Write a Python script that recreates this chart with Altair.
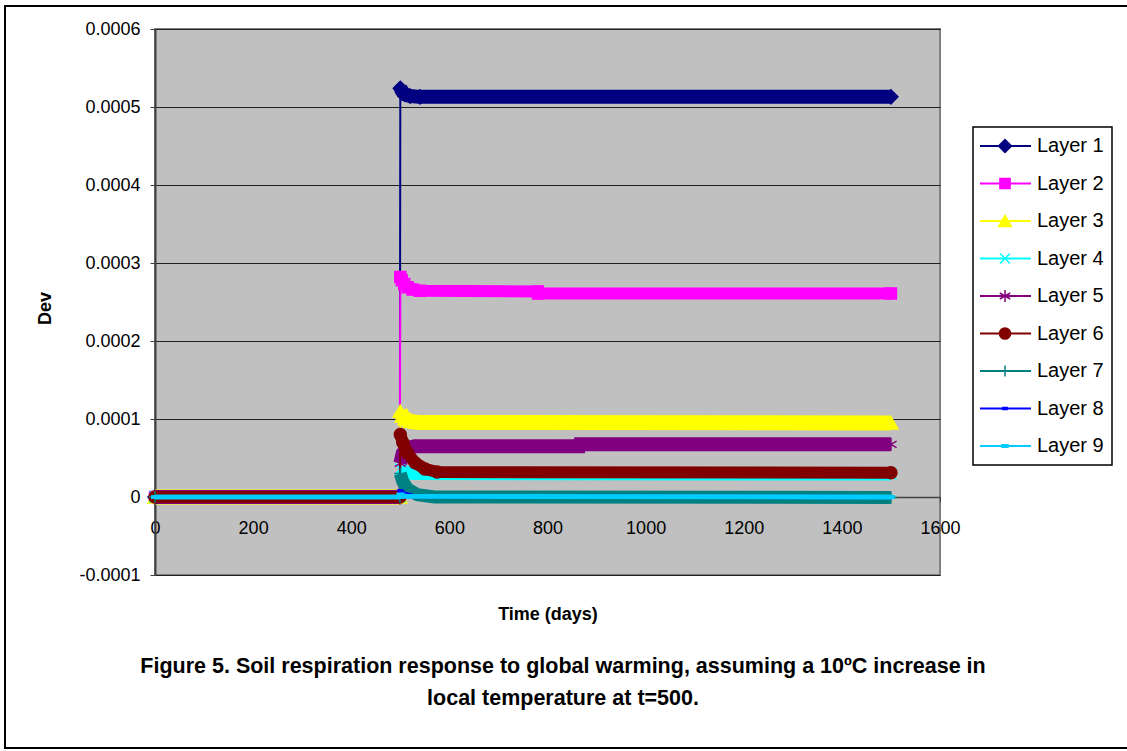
import altair as alt
import pandas as pd

# ---------------- data ----------------
layers = ["Layer 1", "Layer 2", "Layer 3", "Layer 4", "Layer 5",
          "Layer 6", "Layer 7", "Layer 8", "Layer 9"]
colors = ["#000080", "#FF00FF", "#FFFF00", "#00FFFF", "#800080",
          "#800000", "#008080", "#0000FF", "#00CCFF"]

l1_day = [0, 499, 500, 502, 505, 510, 520, 540, 1500]
l1_dev = [0, 0, 0.000524, 0.000522, 0.000519, 0.000516, 0.000514, 0.000513, 0.000513]

l2_day = [0, 499, 500, 503, 508, 515, 525, 540, 780, 781, 1500]
l2_dev = [0, 0, 0.000282, 0.000278, 0.000273, 0.000269, 0.000266, 0.0002645, 0.0002635, 0.000261, 0.000261]

l3_day = [0, 499, 500, 504, 510, 520, 540, 1500]
l3_dev = [0, 0, 0.000110, 0.000104, 0.000100, 0.000097, 0.0000955, 0.000095]

l4_day = [0, 499, 500, 505, 515, 530, 1500]
l4_dev = [0, 0, 0.000036, 0.000033, 0.000031, 0.000030, 0.0000295]

l5_day = [0, 499, 500, 505, 515, 530, 865, 866, 1500]
l5_dev = [0, 0, 0.000043, 0.000056, 0.000063, 0.000065, 0.000065, 0.0000675, 0.0000675]

l6_day = [0, 499, 500, 505, 515, 530, 550, 575, 1500]
l6_dev = [0, 0, 0.000080, 0.000070, 0.000056, 0.000044, 0.000036, 0.000032, 0.000031]

l7_day = [0, 499, 500, 505, 515, 535, 570, 1500]
l7_dev = [0, 0, 0.000030, 0.000020, 0.000010, 0.000003, 0.0, -0.0000006]

l8_day = [0, 499, 500, 510, 530, 1500]
l8_dev = [0, 0, 0.000008, 0.000004, 0.000001, 0.0]

l9_day = [0, 499, 500, 510, 1500]
l9_dev = [0, 0, 0.000003, 0.000001, 0.0]

x_ticks = [0, 200, 400, 600, 800, 1000, 1200, 1400, 1600]
y_ticks = [-0.0001, 0, 0.0001, 0.0002, 0.0003, 0.0004, 0.0005, 0.0006]

caption = ("Figure 5. Soil respiration response to global warming, assuming a 10\u00baC increase in\n"
           "local temperature at t=500.")

# ---------------- build table ----------------
series = [(l1_day, l1_dev), (l2_day, l2_dev), (l3_day, l3_dev), (l4_day, l4_dev),
          (l5_day, l5_dev), (l6_day, l6_dev), (l7_day, l7_dev), (l8_day, l8_dev),
          (l9_day, l9_dev)]
rows = []
for name, (ds, vs) in zip(layers, series):
    for d, v in zip(ds, vs):
        rows.append({"layer": name, "day": d, "dev": v})
df = pd.DataFrame(rows)
legend_df = pd.DataFrame({"layer": layers})
one = pd.DataFrame({"a": [0]})

# ---------------- styles ----------------
FONT = "Liberation Sans"
post_widths = [14, 12, 15, 13, 14, 12, 13, 4, 5]   # thickness of the dense-marker band
pre_widths = [14, 12, 15, 11, 14, 12, 4, 4, 5]
sizes = [196, 121, 196, 121, 169, 144, 144, 169, 169]
shapes = ["diamond", "square", "triangle-up",
          "M-1,-1L1,1M-1,1L1,-1",
          "M0,-1L0,1M-0.87,-0.5L0.87,0.5M-0.87,0.5L0.87,-0.5",
          "circle",
          "M0,-1L0,1M-1,0L1,0",
          "M-0.35,-0.15L0.35,-0.15L0.35,0.15L-0.35,0.15Z",
          "M-0.5,-0.2L0.5,-0.2L0.5,0.2L-0.5,0.2Z"]

xs = alt.Scale(domain=[0, 1600], nice=False, zero=False)
ys = alt.Scale(domain=[-0.0001, 0.0006], nice=False, zero=False)

y_label_expr = ("datum.value == 0 ? '0' : (datum.value < 0 ? '-' + format(-datum.value, '.4f') "
                ": format(datum.value, '.4f'))")

x_enc = alt.X("day:Q", scale=xs, axis=alt.Axis(
    values=x_ticks, format="d", offset=-78, grid=False, title="Time (days)",
    labelFont=FONT, labelFontSize=18, labelColor="black", labelFlush=False,
    labelOverlap=False, labelPadding=17, tickSize=5, tickColor="#404040",
    domainColor="#404040", domainWidth=1.5,
    titleFont=FONT, titleFontSize=18, titleFontWeight="bold", titleColor="black",
    titleY=117, titleBaseline="middle"))
y_enc = alt.Y("dev:Q", scale=ys, axis=alt.Axis(
    values=y_ticks, labelExpr=y_label_expr, grid=True, gridColor="#202020",
    gridWidth=1, title="Dev",
    labelFont=FONT, labelFontSize=18, labelColor="black", labelFlush=False,
    labelOverlap=False, labelPadding=10, tickSize=5, tickColor="#404040",
    domainColor="#404040", domainWidth=2,
    titleFont=FONT, titleFontSize=18, titleFontWeight="bold", titleColor="black",
    titleX=-110, titleY=279, titleAngle=-90, titleAlign="center",
    titleBaseline="middle"))

base = alt.Chart(df)
main_layers = []
for i, name in enumerate(layers):
    c = colors[i]
    sel = base.transform_filter(alt.datum.layer == name)
    main_layers.append(sel.mark_line(strokeWidth=2, color=c).encode(
        x=x_enc, y=y_enc, order="day:Q"))
    main_layers.append(sel.transform_filter(alt.datum.day < 500).mark_line(
        strokeWidth=pre_widths[i], color=c, strokeCap="butt").encode(
        x=x_enc, y=y_enc, order="day:Q"))
    main_layers.append(sel.transform_filter(alt.datum.day >= 500).mark_line(
        strokeWidth=post_widths[i], color=c, strokeCap="butt").encode(
        x=x_enc, y=y_enc, order="day:Q"))
    main_layers.append(sel.mark_point(shape=shapes[i], size=sizes[i], filled=True,
                                      fill=c, stroke=c, strokeWidth=1.5, opacity=1).encode(
        x=x_enc, y=y_enc))
main = alt.layer(*main_layers)

# ---------------- custom legend ----------------
ly = alt.Y("layer:N", scale=alt.Scale(type="point", domain=layers, range=[117, 417], padding=0),
           axis=None)
leg_layers = [alt.Chart(one).mark_rect(fill="white", stroke="black", strokeWidth=1.5).encode(
    x=alt.value(818), x2=alt.value(957), y=alt.value(98), y2=alt.value(436))]
for i, name in enumerate(layers):
    c = colors[i]
    sel = alt.Chart(legend_df).transform_filter(alt.datum.layer == name)
    leg_layers.append(sel.mark_rule(strokeWidth=2, color=c).encode(
        y=ly, x=alt.value(825), x2=alt.value(876)))
    leg_layers.append(sel.mark_point(shape=shapes[i], size=sizes[i] * 0.85, filled=True,
                                     fill=c, stroke=c, strokeWidth=1.5, opacity=1).encode(
        y=ly, x=alt.value(850)))
leg_layers.append(alt.Chart(legend_df).mark_text(
    align="left", baseline="middle", font=FONT, fontSize=20, color="black").encode(
    y=ly, x=alt.value(882), text="layer:N"))
legend = alt.layer(*leg_layers)

frame = alt.Chart(one).mark_rect(filled=False, stroke="black", strokeWidth=2).encode(
    x=alt.value(-150), x2=alt.value(990), y=alt.value(-23), y2=alt.value(719))
cap = alt.Chart(one).mark_text(align="center", baseline="middle", lineBreak="\n",
                               lineHeight=32, font=FONT,
                               fontWeight="bold", fontSize=21.5, color="black").encode(
    x=alt.value(408), y=alt.value(638), text=alt.value(caption))

chart = alt.layer(frame, main, legend, cap).resolve_scale(
    y="independent"
).properties(
    width=785, height=546,
    autosize=alt.AutoSizeParams(type="none"),
    padding={"left": 155, "top": 29, "right": 187, "bottom": 176},
).configure_view(fill="#C0C0C0", stroke="#808080", strokeWidth=2)

chart.save("out.html", embed_options={"renderer": "svg", "actions": False})
